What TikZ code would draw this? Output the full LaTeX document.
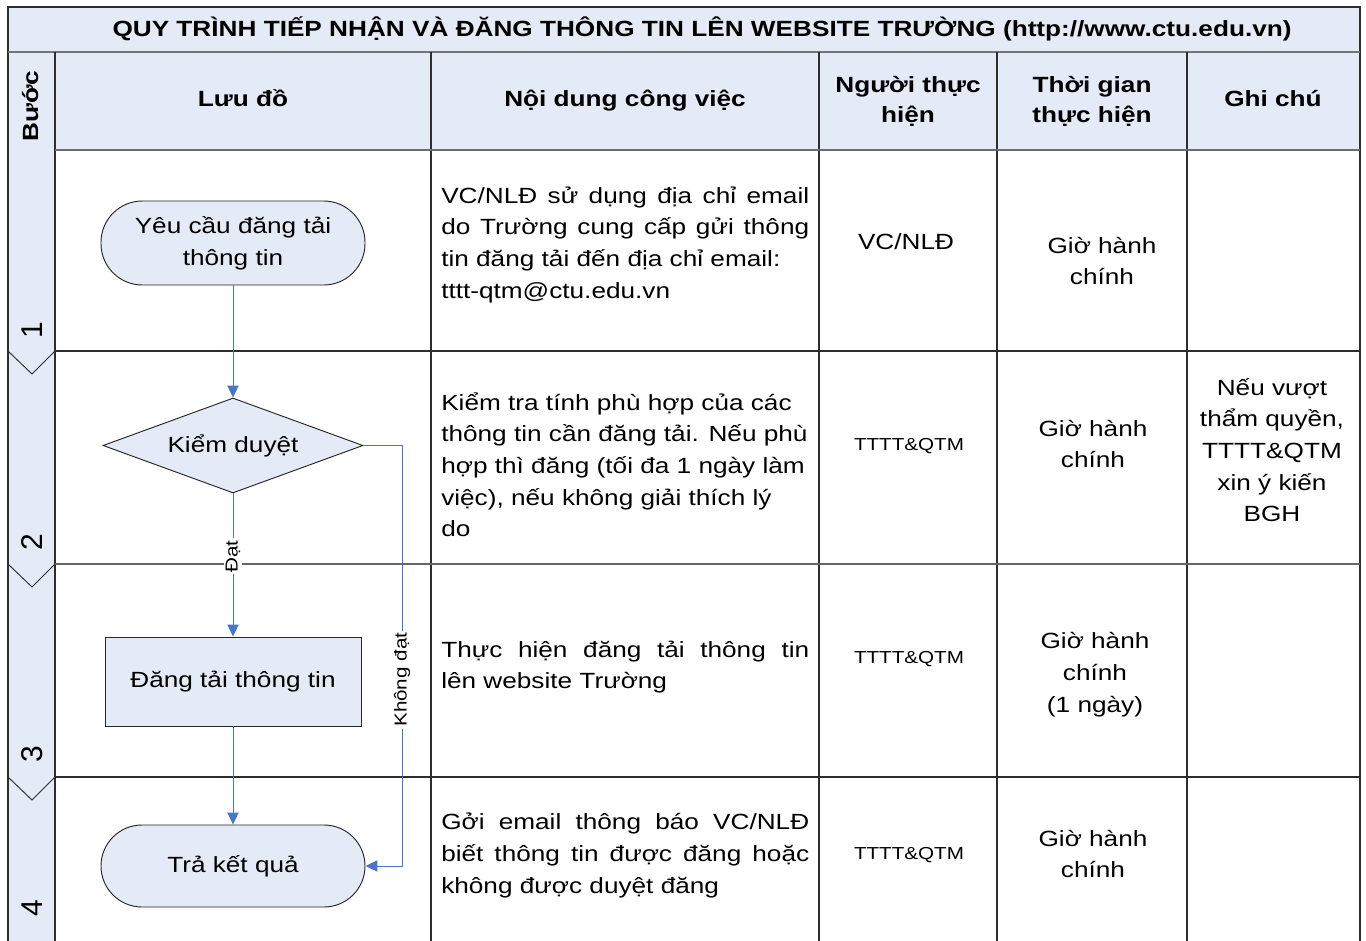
\documentclass[tikz,border=0pt]{standalone}
\usepackage{fontspec}
\setmainfont{Liberation Sans}
\usepackage{graphicx}
\usetikzlibrary{shapes.geometric,arrows.meta}
\definecolor{hdrblue}{RGB}{228,235,246}
\definecolor{flowblue}{RGB}{70,120,198}
\definecolor{gridcol}{RGB}{45,45,45}
\newcommand\sx[1]{\scalebox{1.19}[1]{#1}}
\newcommand\jl[1]{\scalebox{1.19}[1]{\makebox[231.9pt][s]{#1}}}
\begin{document}
\begin{tikzpicture}[x=0.75pt,y=-0.75pt,
  body/.style={font=\fontsize{16.5}{23.75}\selectfont, inner sep=0pt},
  hbold/.style={font=\bfseries\fontsize{16.5}{22.5}\selectfont, inner sep=0pt},
  small/.style={font=\fontsize{13}{16}\selectfont, inner sep=0pt},
  stepno/.style={font=\fontsize{22.5}{24}\selectfont, inner sep=0pt, rotate=90, anchor=base},
  gridline/.style={draw=gridcol, line width=0.9pt},
  shapebox/.style={draw=black!85, fill=hdrblue, line width=0.7pt, inner sep=0pt,
    align=center, font=\fontsize{16.5}{23.75}\selectfont},
  flow/.style={draw=flowblue, line width=0.75pt, -{Triangle[length=9pt,width=8.5pt]}},
  lbl/.style={fill=white, inner sep=1.5pt, font=\fontsize{13}{14}\selectfont, rotate=90}
]
\useasboundingbox (0,0) rectangle (1366,941);
\fill[white] (0,0) rectangle (1366,941);
% fills
\fill[hdrblue] (8,7) rectangle (1360,52);
\fill[hdrblue] (8,52) rectangle (1360,150);
\fill[hdrblue] (8,150) rectangle (55,941);
% grid
\draw[gridline] (8,941) -- (8,7) -- (1360,7) -- (1360,941);
\draw[draw=gray!90!black, line width=1.8pt] (8,52) -- (1360,52);
\draw[gridline] (55,52) -- (55,941);
\foreach \cx in {431,819,997,1187} \draw[gridline] (\cx,52) -- (\cx,941);
\draw[draw=gray!85!black, line width=1.4pt] (55,150) -- (1360,150);
\draw[gridline] (55,351) -- (1360,351);
\draw[draw=gray!80!black, line width=0.9pt] (55,564) -- (1360,564);
\draw[gridline] (55,777) -- (1360,777);
% step chevrons
\foreach \ry in {351,564,777} \draw[gridline, line width=0.7pt] (8,\ry) -- (32,\ry+23) -- (55,\ry);

% title and headers
\node[hbold, anchor=base] (title) at (702,37) {\sx{QUY TRÌNH TIẾP NHẬN VÀ ĐĂNG THÔNG TIN LÊN WEBSITE TRƯỜNG (http://www.ctu.edu.vn)}};
\node[hbold, rotate=90, anchor=base] (buoc) at (38,106) {\sx{Bước}};
\node[hbold, anchor=base] (hluudo) at (243,107) {\sx{Lưu đồ}};
\node[hbold, anchor=base] (hnoidung) at (625,107) {\sx{Nội dung công việc}};
\node[hbold, anchor=base, align=center] (hnguoi) at (908,123) {\sx{Người thực}\\\sx{hiện}};
\node[hbold, anchor=base, align=center] (hthoigian) at (1092,123) {\sx{Thời gian}\\\sx{thực hiện}};
\node[hbold, anchor=base] (hghichu) at (1273,107) {\sx{Ghi chú}};

% step numbers
\node[stepno] (s1) at (42,330) {1};
\node[stepno] (s2) at (42,542) {2};
\node[stepno] (s3) at (42,754) {3};
\node[stepno] (s4) at (42,908) {4};

% column 3 texts (base anchor = last line baseline)
\node[body, anchor=base west, align=left] (r1c3) at (441,298)
  {\jl{VC/NLĐ sử dụng địa chỉ email}\\\jl{do Trường cung cấp gửi thông}\\\sx{tin đăng tải đến địa chỉ email:}\\\sx{tttt-qtm@ctu.edu.vn}};
\node[body, anchor=base west, align=left] (r2c3) at (441,536.7)
  {\sx{Kiểm tra tính phù hợp của các}\\\sx{thông tin cần đăng tải. Nếu phù}\\\sx{hợp thì đăng (tối đa 1 ngày làm}\\\sx{việc), nếu không giải thích lý}\\\sx{do}};
\node[body, anchor=base west, align=left] (r3c3) at (441,688.7)
  {\jl{Thực hiện đăng tải thông tin}\\\sx{lên website Trường}};
\node[body, anchor=base west, align=left] (r4c3) at (441,893.3)
  {\jl{Gởi email thông báo VC/NLĐ}\\\jl{biết thông tin được đăng hoặc}\\\sx{không được duyệt đăng}};

% column 4 texts
\node[body, anchor=base] (r1c4) at (906,249) {\sx{VC/NLĐ}};
\node[small, anchor=base] (r2c4) at (909,450) {\sx{TTTT\&QTM}};
\node[small, anchor=base] (r3c4) at (909,663) {\sx{TTTT\&QTM}};
\node[small, anchor=base] (r4c4) at (909,859) {\sx{TTTT\&QTM}};

% column 5 texts
\node[body, anchor=base, align=center] (r1c5) at (1102,284.7) {\sx{Giờ hành}\\\sx{chính}};
\node[body, anchor=base, align=center] (r2c5) at (1093,467.7) {\sx{Giờ hành}\\\sx{chính}};
\node[body, anchor=base, align=center] (r3c5) at (1095,712.3) {\sx{Giờ hành}\\\sx{chính}\\\sx{(1 ngày)}};
\node[body, anchor=base, align=center] (r4c5) at (1093,877.7) {\sx{Giờ hành}\\\sx{chính}};

% column 6
\node[body, anchor=base, align=center] (r2c6) at (1272,521.7) {\sx{Nếu vượt}\\\sx{thẩm quyền,}\\\sx{TTTT\&QTM}\\\sx{xin ý kiến}\\\sx{BGH}};

% flowchart
\node[shapebox, rectangle, rounded corners=31pt, minimum width=198pt, minimum height=63pt] (term1) at (233,243)
  {\sx{Yêu cầu đăng tải}\\\sx{thông tin}};
\node[shapebox, diamond, aspect=2.737, minimum width=195pt, minimum height=71.25pt] (dia) at (233,445.5)
  {\sx{Kiểm duyệt}};
\node[shapebox, rectangle, minimum width=192pt, minimum height=66.75pt] (proc) at (233,681.5)
  {\sx{Đăng tải thông tin}};
\node[shapebox, rectangle, rounded corners=30.75pt, minimum width=198pt, minimum height=61.5pt] (term2) at (233,866)
  {\sx{Trả kết quả}};

\coordinate (k1) at (402,445.5);
\coordinate (k2) at (402,866);
\draw[flow] (term1.south) -- (dia.north);
\draw[flow] (dia.south) -- node[lbl, pos=0.44] (dat) {\sx{Đạt}} (proc.north);
\draw[flow] (proc.south) -- (term2.north);
\draw[flow] (dia.east) -- (k1) -- node[lbl, pos=0.557] (khongdat) {\sx{Không đạt}} (k2) -- (term2.east);
\end{tikzpicture}
\end{document}
